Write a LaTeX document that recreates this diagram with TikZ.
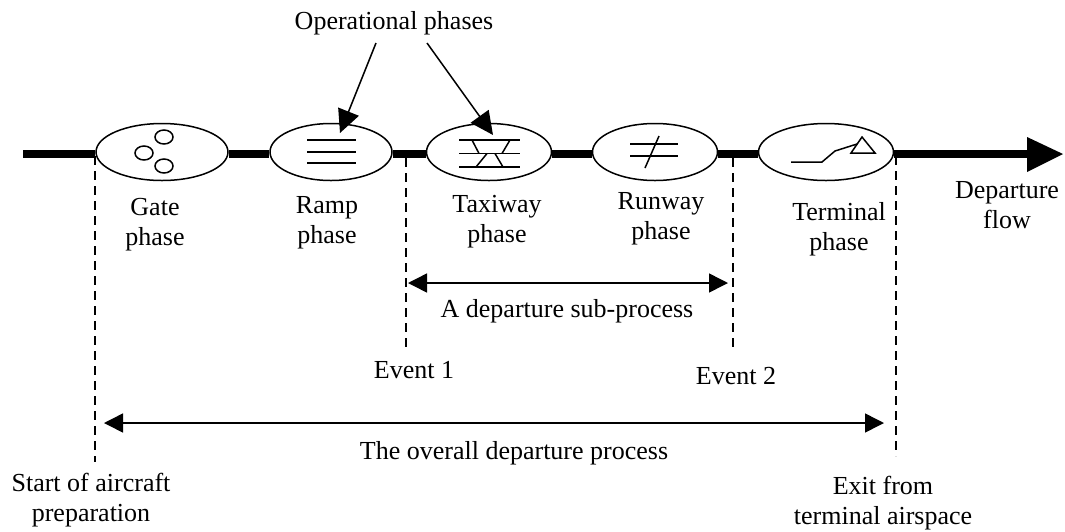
\documentclass[tikz,border=0pt]{standalone}
\usepackage{fontspec}
\setmainfont{Liberation Serif}
\usetikzlibrary{shapes.geometric,arrows.meta}

\tikzset{
  phase/.style={ellipse,draw,line width=1.5pt,fill=white,inner sep=0pt},
  flowline/.style={line width=8pt},
  eventmark/.style={line width=1.5pt,dash pattern=on 9pt off 6pt},
  spanline/.style={line width=1.5pt,{Triangle[length=19pt,width=19pt]}-{Triangle[length=19pt,width=19pt]}},
  pointer/.style={line width=1.5pt,-{Triangle[length=23pt,width=22pt]}},
  icon/.style={line width=1.5pt},
  label/.style={font=\fontsize{26}{30}\selectfont,align=center,inner sep=0pt}
}

\begin{document}
\begin{tikzpicture}
  [x=1pt,y=-1pt]
  \useasboundingbox (0,0) rectangle (1065,531);

  % phases
  \node[phase,minimum width=132pt,minimum height=57pt] (gate) at (162,152) {};
  \node[phase,minimum width=122pt,minimum height=57pt] (ramp) at (331,152) {};
  \node[phase,minimum width=125pt,minimum height=57pt] (taxi) at (489,152) {};
  \node[phase,minimum width=125pt,minimum height=57pt] (runway) at (655,152) {};
  \node[phase,minimum width=135pt,minimum height=57pt] (term) at (826,152) {};

  % flow line
  \coordinate (in) at (23,154);
  \coordinate (out) at (1030,154);
  \coordinate (tip) at (1063,154);
  \coordinate (g1) at (gate.west |- in);
  \coordinate (g2) at (gate.east |- in);
  \coordinate (r1) at (ramp.west |- in);
  \coordinate (r2) at (ramp.east |- in);
  \coordinate (t1) at (taxi.west |- in);
  \coordinate (t2) at (taxi.east |- in);
  \coordinate (u1) at (runway.west |- in);
  \coordinate (u2) at (runway.east |- in);
  \coordinate (e1) at (term.west |- in);
  \coordinate (e2) at (term.east |- in);

  \foreach \from/\to in {in/g1,g2/r1,r2/t1,t2/u1,u2/e1,e2/out}
    \draw[flowline] (\from) -- (\to);
  \fill (1027,137) -- (tip) -- (1027,172) -- cycle;

  % icons
  \draw[icon] (164,137) ellipse (9 and 7);
  \draw[icon] (144,153) ellipse (9 and 7);
  \draw[icon] (164,166) ellipse (9 and 7);

  \foreach \y in {140,152,163}
    \draw[icon] (307,\y) -- (356,\y);

  \foreach \y in {140,153.5,167}
    \draw[icon] (459,\y) -- (520,\y);
  \draw[icon] (472,140) -- (479,153.5);
  \draw[icon] (487,153.5) -- (476,167);
  \draw[icon] (510,140) -- (502,153.5);
  \draw[icon] (495,153.5) -- (503,167);

  \draw[icon] (630,144) -- (678,144);
  \draw[icon] (630,156) -- (678,156);
  \draw[icon] (659,136) -- (645,168);

  \draw[icon] (791,162) -- (822,162) -- (835,151) -- (857,144);
  \draw[icon] (851,153) -- (875,153) -- (862,137) -- cycle;

  % labels
  \node[label] (gatetxt) at (155,225) {Gate\\phase};
  \node[label] (ramptxt) at (327,223) {Ramp\\phase};
  \node[label] (taxitxt) at (497,222) {Taxiway\\phase};
  \node[label] (runwaytxt) at (661,219) {Runway\\phase};
  \node[label] (termtxt) at (839,229) {Terminal\\phase};
  \node[label] (flowtxt) at (1007,205) {Departure\\flow};
  \node[label] (optxt) at (394,23) {Operational phases};
  \node[label] (subtxt) at (567,311) {A departure sub-process};
  \node[label] (ev1) at (414,370) {Event 1};
  \node[label] (ev2) at (736,376) {Event 2};
  \node[label] (alltxt) at (514,453) {The overall departure process};
  \node[label] (starttxt) at (91,500) {Start of aircraft\\preparation};
  \node[label] (exittxt) at (883,503) {Exit from\\terminal airspace};

  % pointers
  \coordinate (p1) at (376,43);
  \coordinate (p2) at (427,43);
  \coordinate (q1) at (340,133);
  \coordinate (q2) at (493,135);
  \draw[pointer] (p1) -- (q1);
  \draw[pointer] (p2) -- (q2);

  % event marks
  \coordinate (d1) at (95,156);
  \coordinate (d2) at (406,158);
  \coordinate (d3) at (733,158);
  \coordinate (d4) at (896,156);
  \coordinate (f1) at (95,462);
  \coordinate (f2) at (406,349);
  \coordinate (f3) at (733,347);
  \coordinate (f4) at (896,456);
  \foreach \from/\to in {d1/f1,d2/f2,d3/f3,d4/f4}
    \draw[eventmark] (\from) -- (\to);

  % spans
  \coordinate (a1) at (408,283);
  \coordinate (a2) at (728,283);
  \coordinate (b1) at (104,423);
  \coordinate (b2) at (884,423);
  \draw[spanline] (a1) -- (a2);
  \draw[spanline] (b1) -- (b2);

\end{tikzpicture}
\end{document}
